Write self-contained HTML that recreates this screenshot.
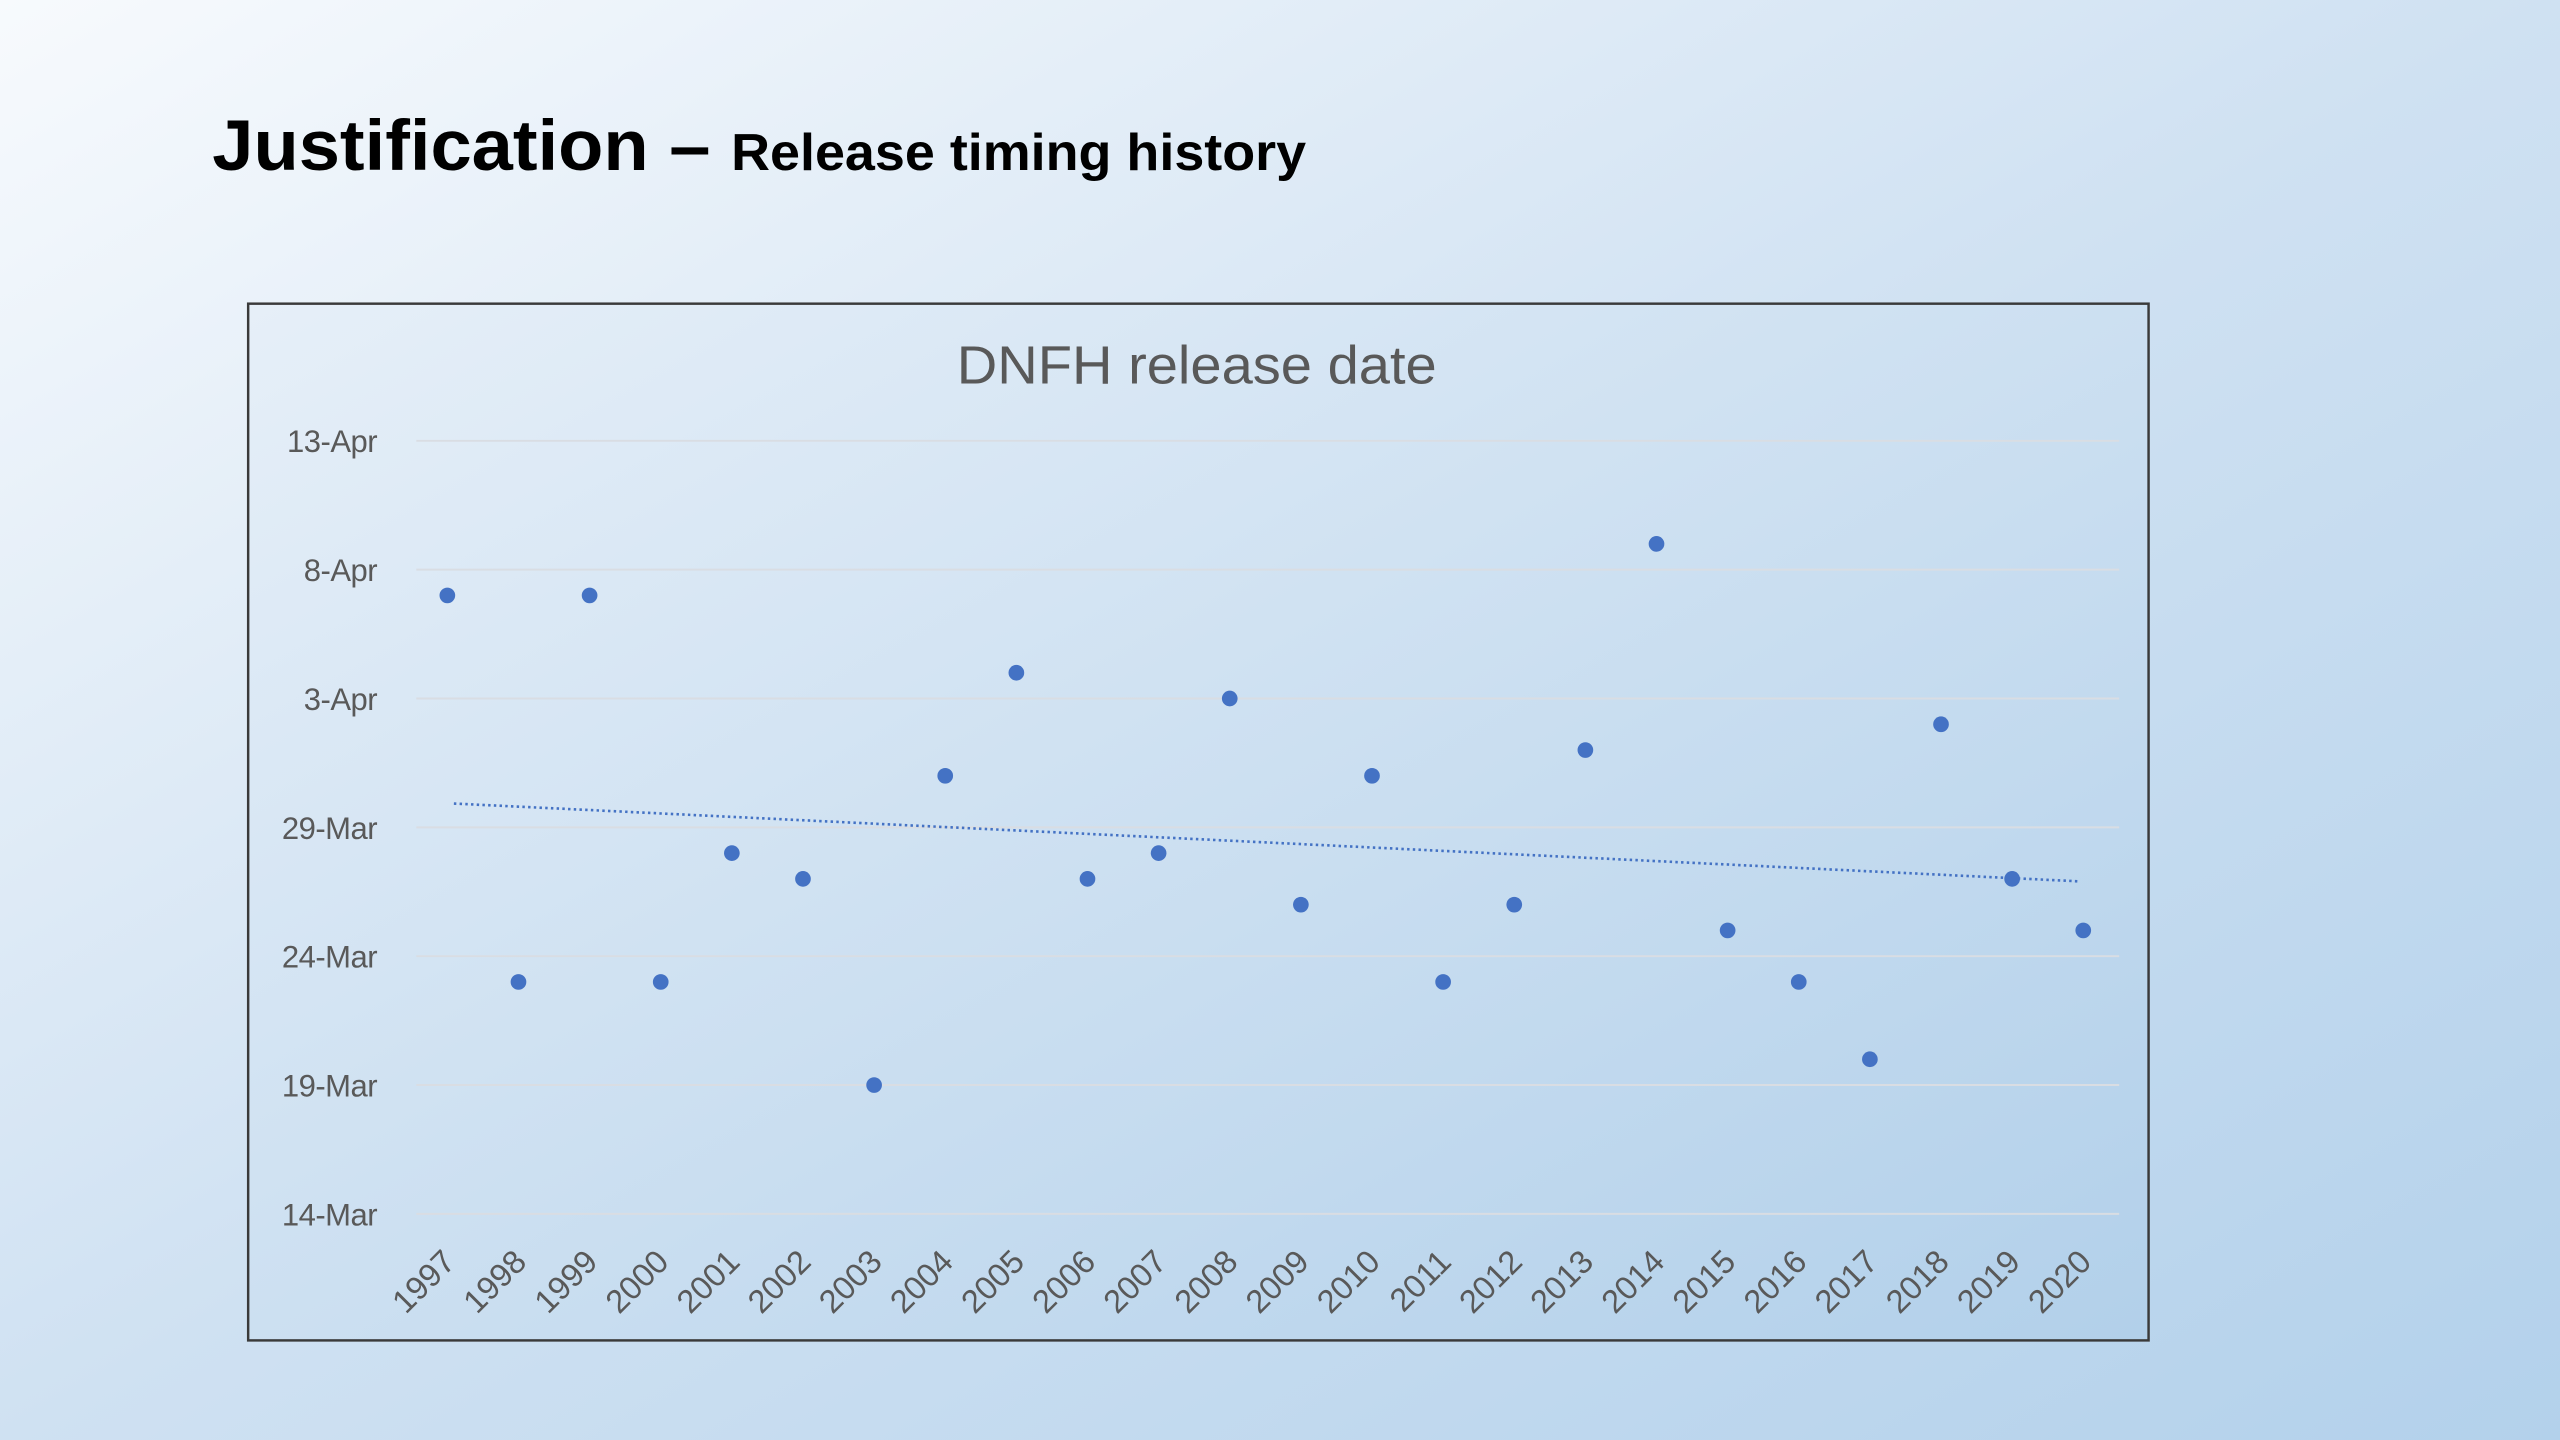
<!DOCTYPE html>
<html><head><meta charset="utf-8"><style>
html,body{margin:0;padding:0;width:2560px;height:1440px;overflow:hidden}
svg{display:block}
text{font-family:"Liberation Sans",sans-serif}
</style></head><body>
<svg id="chart" width="2560" height="1440" viewBox="0 0 1568 882" xmlns="http://www.w3.org/2000/svg">
<defs>
<linearGradient id="bg" x1="0" y1="0" x2="1" y2="1">
<stop offset="0" stop-color="#f7fafd"/><stop offset="0.5" stop-color="#cfe1f2"/><stop offset="1" stop-color="#b3d1eb"/>
</linearGradient>
<linearGradient id="pb" x1="0" y1="0" x2="1" y2="1">
<stop offset="0" stop-color="#e6eff8"/><stop offset="1" stop-color="#b2d0ea"/>
</linearGradient>
</defs>
<rect width="1568" height="882" fill="url(#bg)"/>
<text x="130" y="104" font-size="44" font-weight="bold" fill="#000" textLength="670" lengthAdjust="spacingAndGlyphs">Justification – <tspan font-size="32">Release timing history</tspan></text>
<rect x="152" y="186" width="1164" height="635" fill="url(#pb)" stroke="#3a3a3a" stroke-width="1.5"/>
<text x="733" y="235" text-anchor="middle" font-size="33" fill="#595959" textLength="294" lengthAdjust="spacingAndGlyphs">DNFH release date</text>
<g id="grid"></g><g id="ylabels"></g><g id="xlabels"></g><g id="trend"></g><g id="points"></g>
</svg>
<script>
const years = ["1997","1998","1999","2000","2001","2002","2003","2004","2005","2006","2007","2008","2009","2010","2011","2012","2013","2014","2015","2016","2017","2018","2019","2020"];
const releaseDates = ["7-Apr","23-Mar","7-Apr","23-Mar","28-Mar","27-Mar","19-Mar","31-Mar","4-Apr","27-Mar","28-Mar","3-Apr","26-Mar","31-Mar","23-Mar","26-Mar","1-Apr","9-Apr","25-Mar","23-Mar","20-Mar","2-Apr","27-Mar","25-Mar"];
const yTickLabels = ["14-Mar","19-Mar","24-Mar","29-Mar","3-Apr","8-Apr","13-Apr"];
const NS="http://www.w3.org/2000/svg";
function dayNum(s){const [d,m]=s.split("-");return (m==="Apr"?31:0)+parseInt(d,10);}
const yMin=dayNum("14-Mar"), yMax=dayNum("13-Apr");
function yScale(v){return 743.5-(v-yMin)*(743.5-270)/(yMax-yMin);}
function xScale(i){return 274+i*(1276-274)/(years.length-1);}
function mk(tag,attrs,parent){const e=document.createElementNS(NS,tag);for(const k in attrs)e.setAttribute(k,attrs[k]);parent.appendChild(e);return e;}
const grid=document.getElementById("grid"),yl=document.getElementById("ylabels"),xl=document.getElementById("xlabels"),pts=document.getElementById("points"),tr=document.getElementById("trend");
yTickLabels.forEach(l=>{const y=yScale(dayNum(l));
const g=mk("line",{x1:255,x2:1298,y1:y,y2:y,stroke:"#d9dde3","stroke-width":1.2},grid);


const t=mk("text",{x:231,y:y+7,"text-anchor":"end","font-size":19,fill:"#595959",style:"letter-spacing:-0.3px"},yl);t.textContent=l;

});
years.forEach((yr,i)=>{const x=xScale(i);
const t=mk("text",{transform:`translate(${x+6},${774}) rotate(-45)`,"text-anchor":"end","font-size":20,fill:"#595959"},xl);t.textContent=yr;

});
const vals=releaseDates.map(dayNum);
const n=vals.length;let sx=0,sy=0,sxy=0,sxx=0;vals.forEach((v,i)=>{sx+=i;sy+=v;sxy+=i*v;sxx+=i*i;});
const b=(n*sxy-sx*sy)/(n*sxx-sx*sx),a=(sy-b*sx)/n;
const tl=mk("line",{x1:xScale(0)+4,y1:yScale(a+b*0.1),x2:xScale(n-1)-3,y2:yScale(a+b*(n-1.07)),stroke:"#4472c4","stroke-width":1.6,"stroke-dasharray":"1.5 2"},tr);


vals.forEach((v,i)=>{const c=mk("circle",{cx:xScale(i),cy:yScale(v),r:4.8,fill:"#4472c4"},pts);

});
</script>
</body></html>
